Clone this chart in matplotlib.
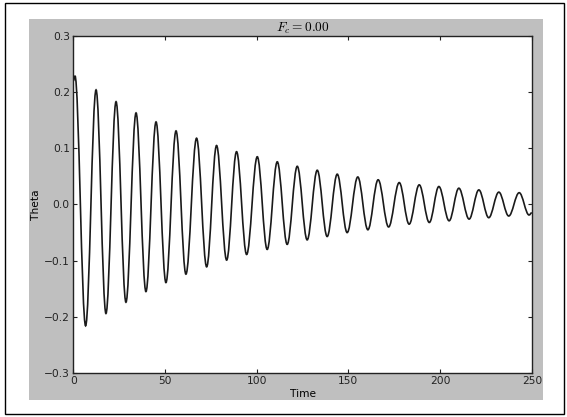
import matplotlib
matplotlib.use("Agg")
import matplotlib.pyplot as plt
from matplotlib.path import Path
from matplotlib.patches import PathPatch, Rectangle

# turning points of the pendulum angle
time_ext = [0.0, 0.9, 6.7, 12.4, 17.8, 23.3, 28.7, 34.2, 39.6, 45.1, 50.5, 56.0,
            61.4, 67.2, 72.7, 78.1, 83.6, 89.0, 94.5, 100.3, 105.7, 111.2,
            116.6, 122.1, 127.5, 133.0, 138.4, 143.9, 149.3, 155.1, 160.6, 166.2,
            171.9, 177.7, 183.1, 188.6, 194.1, 199.3, 204.9, 210.2, 215.8, 221.1,
            226.5, 232.0, 237.4, 243.1, 248.5, 250.0]
theta_ext = [0.220, 0.229, -0.216, 0.204, -0.194, 0.183, -0.174, 0.163, -0.155, 0.147,
             -0.139, 0.131, -0.124, 0.118, -0.111, 0.105, -0.099, 0.094, -0.089, 0.085,
             -0.080, 0.076, -0.071, 0.068, -0.063, 0.061, -0.057, 0.054, -0.050, 0.049,
             -0.045, 0.044, -0.040, 0.039, -0.035, 0.035, -0.032, 0.032, -0.029, 0.029,
             -0.026, 0.026, -0.0235, 0.022, -0.0205, 0.021, -0.0187, -0.0146]

x_ticks = [0, 50, 100, 150, 200, 250]
y_ticks = [-0.3, -0.2, -0.1, 0.0, 0.1, 0.2, 0.3]

plt.rcParams["font.family"] = ["DejaVu Sans"]
plt.rcParams["mathtext.fontset"] = "cm"

fig = plt.figure(figsize=(5.67, 4.17), dpi=100, facecolor="white")
# grey figure panel and the outer frame of the pasted picture
fig.add_artist(Rectangle((29 / 567, 1 - 400 / 417), 514 / 567, 381 / 417,
                         transform=fig.transFigure, facecolor="#bfbfbf",
                         edgecolor="none", zorder=0))
fig.add_artist(Rectangle((5 / 567, 1 - 414 / 417), 559 / 567, 411 / 417,
                         transform=fig.transFigure, facecolor="none",
                         edgecolor="black", linewidth=1.0, zorder=0))

ax = fig.add_axes([0.1293, 0.1055, 0.8087, 0.8082])
ax.set_facecolor("white")

# smooth curve through the turning points, flat at each extremum
k = 0.3642
verts = [(time_ext[0], theta_ext[0])]
codes = [Path.MOVETO]
for i in range(1, len(time_ext)):
    dt = time_ext[i] - time_ext[i - 1]
    verts += [(time_ext[i - 1] + k * dt, theta_ext[i - 1]),
              (time_ext[i] - k * dt, theta_ext[i]),
              (time_ext[i], theta_ext[i])]
    codes += [Path.CURVE4] * 3
ax.add_patch(PathPatch(Path(verts, codes), fill=False, edgecolor="#1a1a1a",
                       linewidth=1.2, transform=ax.transData))

ax.set_xlim(0, 250)
ax.set_ylim(-0.3, 0.3)
ax.set_xticks(x_ticks)
ax.set_yticks(y_ticks)
ax.set_yticklabels([f"{v:.1f}".replace("-", "\u2212") for v in y_ticks])
ax.tick_params(direction="in", length=3, width=0.8, pad=2.5, labelsize=7.7,
               top=True, right=True, colors="#222222")
for s in ax.spines.values():
    s.set_linewidth(1.0)
    s.set_color("#222222")

ax.set_title(r"$F_c=0.00$", fontsize=9.6, pad=3)
ax.set_xlabel("Time", fontsize=7.7, labelpad=2)
ax.set_ylabel("Theta", fontsize=7.7, labelpad=2)

fig.savefig("out.png", dpi=100, facecolor="white")
